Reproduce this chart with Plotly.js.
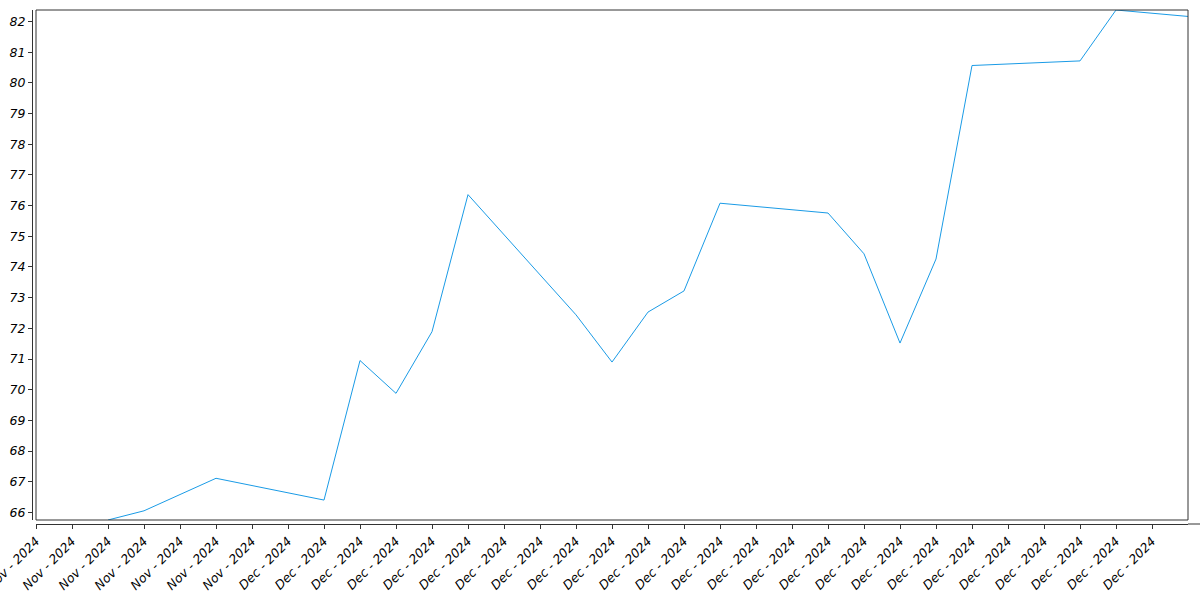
<!DOCTYPE html>
<html>
<head>
<meta charset="utf-8">
<script src="https://cdn.plot.ly/plotly-3.0.1.min.js"></script>
<style>
  html, body { margin: 0; padding: 0; background: #ffffff; }
  #chart { width: 1200px; height: 600px; }
</style>
</head>
<body>
<div id="chart"></div>
<script>
// Trading dates (x) and values (y)
const dates = [
  "2024-11-26", "2024-11-27", "2024-11-29",
  "2024-12-02", "2024-12-03", "2024-12-04", "2024-12-05", "2024-12-06",
  "2024-12-09", "2024-12-10", "2024-12-11", "2024-12-12", "2024-12-13",
  "2024-12-16", "2024-12-17", "2024-12-18", "2024-12-19", "2024-12-20",
  "2024-12-23", "2024-12-24", "2024-12-26"
];
const values = [
  65.75, 66.05, 67.11,
  66.40, 70.95, 69.88, 71.89, 76.36,
  72.44, 70.90, 72.53, 73.22, 76.08,
  75.76, 74.43, 71.52, 74.26, 80.57,
  80.72, 82.38, 82.17
];
// Tick positions on the x axis (one per day) and their labels
const tickDates = [
  "2024-11-24", "2024-11-25", "2024-11-26", "2024-11-27", "2024-11-28", "2024-11-29", "2024-11-30",
  "2024-12-01", "2024-12-02", "2024-12-03", "2024-12-04", "2024-12-05", "2024-12-06", "2024-12-07",
  "2024-12-08", "2024-12-09", "2024-12-10", "2024-12-11", "2024-12-12", "2024-12-13", "2024-12-14",
  "2024-12-15", "2024-12-16", "2024-12-17", "2024-12-18", "2024-12-19", "2024-12-20", "2024-12-21",
  "2024-12-22", "2024-12-23", "2024-12-24", "2024-12-25"
];
const tickLabels = [
  "Nov - 2024", "Nov - 2024", "Nov - 2024", "Nov - 2024", "Nov - 2024", "Nov - 2024", "Nov - 2024",
  "Dec - 2024", "Dec - 2024", "Dec - 2024", "Dec - 2024", "Dec - 2024", "Dec - 2024", "Dec - 2024",
  "Dec - 2024", "Dec - 2024", "Dec - 2024", "Dec - 2024", "Dec - 2024", "Dec - 2024", "Dec - 2024",
  "Dec - 2024", "Dec - 2024", "Dec - 2024", "Dec - 2024", "Dec - 2024", "Dec - 2024", "Dec - 2024",
  "Dec - 2024", "Dec - 2024", "Dec - 2024", "Dec - 2024"
];
const xRange = ["2024-11-24", "2024-12-26"];
const yTicks = [66, 67, 68, 69, 70, 71, 72, 73, 74, 75, 76, 77, 78, 79, 80, 81, 82];

const axisColor = "#333333";
const tickFont = { family: "DejaVu Sans, sans-serif", size: 12.5, color: "#000000", style: "italic" };

const yMin = Math.min(...values);
const yMax = Math.max(...values);

const trace = {
  x: dates,
  y: values,
  type: "scatter",
  mode: "lines",
  line: { color: "#1a9be6", width: 1 },
  hoverinfo: "x+y"
};

const W = 1200, H = 600;
const margin = { l: 32, r: 12, t: 10, b: 76 };
const pw = W - margin.l - margin.r;
const ph = H - margin.t - margin.b;

const layout = {
  width: W,
  height: H,
  margin: margin,
  paper_bgcolor: "#ffffff",
  plot_bgcolor: "#ffffff",
  showlegend: false,
  font: tickFont,
  xaxis: {
    type: "date",
    domain: [4 / pw, 1],
    anchor: "free",
    position: 0,
    range: xRange,
    tickmode: "array",
    tickvals: tickDates,
    ticktext: tickLabels,
    tickangle: -45,
    ticklabeloverflow: "allow",
    tickfont: tickFont,
    ticks: "outside",
    ticklen: 4,
    tickwidth: 1,
    tickcolor: axisColor,
    showline: true,
    linecolor: axisColor,
    linewidth: 1,
    showgrid: false,
    zeroline: false
  },
  yaxis: {
    domain: [4 / ph, 1],
    anchor: "free",
    position: 0,
    range: [yMin, yMax],
    tickvals: yTicks,
    tickfont: tickFont,
    ticks: "outside",
    ticklen: 4,
    tickwidth: 1,
    tickcolor: axisColor,
    showline: true,
    linecolor: axisColor,
    linewidth: 1,
    showgrid: false,
    zeroline: false
  },
  shapes: [{
    type: "rect",
    xref: "x domain", yref: "y domain",
    x0: 0, x1: 1, y0: 0, y1: 1,
    line: { color: axisColor, width: 1 },
    fillcolor: "rgba(0,0,0,0)",
    layer: "above"
  }, {
    // bottom spine continues to the right edge of the figure
    type: "line",
    xref: "paper", yref: "paper",
    x0: 1, x1: (W - margin.l) / pw, y0: 0, y1: 0,
    line: { color: axisColor, width: 1 },
    layer: "above"
  }]
};

Plotly.newPlot("chart", [trace], layout, { displayModeBar: false, staticPlot: true });
</script>
</body>
</html>
